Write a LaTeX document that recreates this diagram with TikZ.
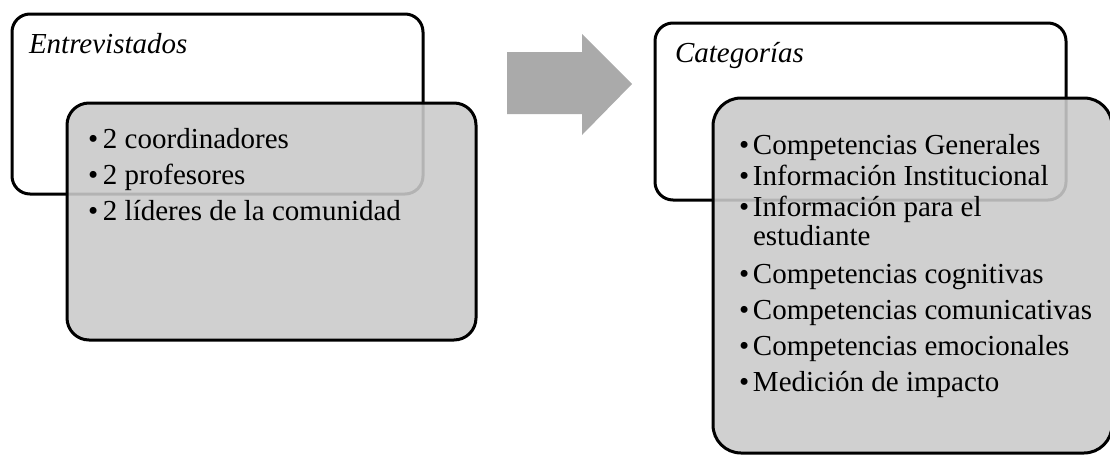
\documentclass[tikz,border=0pt]{standalone}
\usepackage{fontspec}
\setmainfont{Liberation Serif}
\definecolor{boxgray}{RGB}{202,202,202}
\definecolor{arrowgray}{RGB}{170,170,170}
\begin{document}
\begin{tikzpicture}[x=1pt,y=-1pt,
  outerbox/.style={draw=black,line width=3pt,fill=white,rounded corners=18pt,
    anchor=north west,inner sep=0pt,outer sep=0pt},
  innerbox/.style={draw=black,line width=3pt,fill=boxgray,fill opacity=0.89,draw opacity=1,
    anchor=north west,inner sep=0pt,outer sep=0pt},
  item/.style={anchor=base west,inner sep=0pt,outer sep=0pt,font=\fontsize{29}{34}\selectfont},
  titletext/.style={item,font=\fontsize{29}{34}\selectfont\itshape}]
\useasboundingbox (0,0) rectangle (1110,455);
% left group
\node[outerbox,minimum width=411pt,minimum height=180pt] (lw) at (12,14) {};
\node[titletext] (lt) at (29,53) {Entrevistados};
\node[innerbox,rounded corners=22pt,minimum width=409pt,minimum height=237pt] (lg) at (67,103) {};
\node[item] (l1) at (88,148) {\makebox[15pt][l]{•}2 coordinadores};
\node[item] (l2) at (88,184) {\makebox[15pt][l]{•}2 profesores};
\node[item] (l3) at (88,220) {\makebox[15pt][l]{•}2 líderes de la comunidad};
% arrow
\fill[arrowgray] (507,52) -- (582,52) -- (582,34) -- (632,84) -- (582,135) -- (582,114) -- (507,114) -- cycle;
% right group
\node[outerbox,minimum width=411pt,minimum height=177pt] (rw) at (655,23) {};
\node[titletext] (rt) at (675,62) {Categorías};
\node[innerbox,rounded corners=28pt,minimum width=399pt,minimum height=355pt] (rg) at (713,98) {};
\node[item] (r1) at (739,154) {\makebox[14pt][l]{•}Competencias Generales};
\node[item] (r2) at (739,185) {\makebox[14pt][l]{•}Información Institucional};
\node[item] (r3) at (739,216) {\makebox[14pt][l]{•}Información para el};
\node[item] (r3b) at (753,245) {estudiante};
\node[item] (r4) at (739,283) {\makebox[14pt][l]{•}Competencias cognitivas};
\node[item] (r5) at (739,319) {\makebox[14pt][l]{•}Competencias comunicativas};
\node[item] (r6) at (739,355) {\makebox[14pt][l]{•}Competencias emocionales};
\node[item] (r7) at (739,391) {\makebox[14pt][l]{•}Medición de impacto};
\end{tikzpicture}
\end{document}
